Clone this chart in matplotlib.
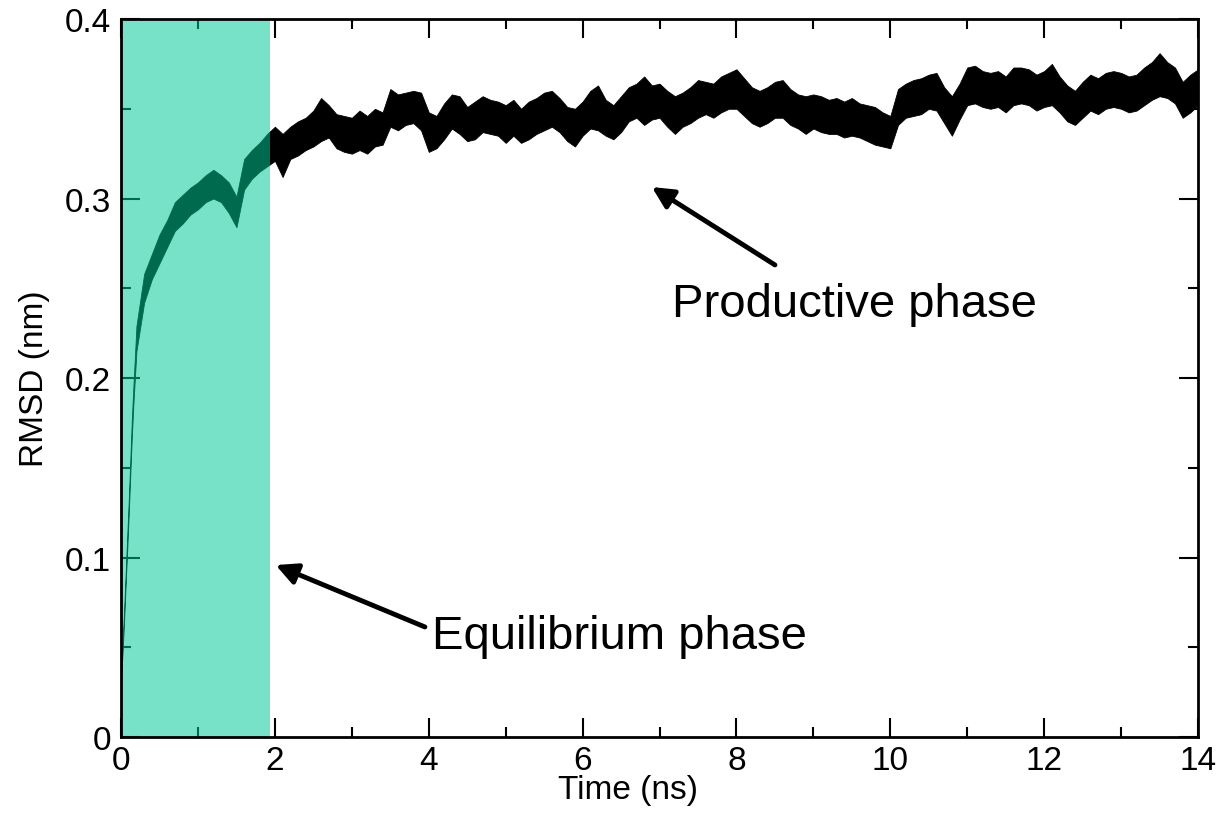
import matplotlib.pyplot as plt
import numpy as np
from matplotlib.ticker import MultipleLocator, FuncFormatter

plt.rcParams['font.family'] = ['Liberation Sans', 'DejaVu Sans']

# time axis (ns): fine steps during the initial jump, then every 0.1 ns
time = np.concatenate([
    [0.0, 0.02, 0.04, 0.06, 0.08, 0.10, 0.12, 0.14, 0.16, 0.18],
    np.round(np.arange(0.2, 14.001, 0.1), 2),
])

# RMSD envelope (nm): lower / upper edge of the noisy band
rmsd_lo = [
    0.032, 0.047, 0.065, 0.085, 0.104, 0.124, 0.146, 0.167, 0.185, 0.200,
    0.215, 0.242, 0.255, 0.264, 0.273, 0.282, 0.286, 0.291, 0.294, 0.298,
    0.300, 0.298, 0.292, 0.284, 0.305, 0.311, 0.315, 0.318,
    0.321, 0.312, 0.322, 0.324, 0.327, 0.329, 0.332, 0.334, 0.328, 0.326,
    0.325, 0.327, 0.325, 0.329, 0.330, 0.340, 0.338, 0.341, 0.342, 0.338,
    0.326, 0.328, 0.333, 0.339, 0.336, 0.332, 0.333, 0.337, 0.336, 0.335,
    0.331, 0.335, 0.331, 0.333, 0.336, 0.338, 0.340, 0.337, 0.332, 0.329,
    0.335, 0.339, 0.338, 0.335, 0.333, 0.337, 0.343, 0.345, 0.341, 0.344,
    0.345, 0.340, 0.336, 0.340, 0.342, 0.345, 0.347, 0.345, 0.348, 0.350,
    0.350, 0.346, 0.342, 0.340, 0.342, 0.345, 0.345, 0.341, 0.339, 0.336,
    0.339, 0.337, 0.336, 0.336, 0.334, 0.335, 0.334, 0.332, 0.330, 0.329,
    0.328, 0.341, 0.345, 0.346, 0.347, 0.350, 0.349, 0.342, 0.335, 0.344,
    0.352, 0.353, 0.351, 0.350, 0.351, 0.348, 0.352, 0.353, 0.352, 0.349,
    0.351, 0.352, 0.348, 0.343, 0.341, 0.345, 0.349, 0.347, 0.350, 0.351,
    0.350, 0.348, 0.349, 0.352, 0.355, 0.357, 0.356, 0.353, 0.345, 0.348,
    0.352,
]
rmsd_hi = [
    0.038, 0.053, 0.071, 0.091, 0.112, 0.132, 0.154, 0.177, 0.195, 0.212,
    0.229, 0.258, 0.269, 0.280, 0.288, 0.298, 0.302, 0.306, 0.309, 0.313,
    0.316, 0.313, 0.309, 0.301, 0.322, 0.327, 0.331, 0.336,
    0.340, 0.336, 0.340, 0.343, 0.345, 0.349, 0.356, 0.352, 0.347, 0.346,
    0.345, 0.349, 0.346, 0.350, 0.348, 0.361, 0.358, 0.359, 0.360, 0.359,
    0.348, 0.346, 0.353, 0.358, 0.357, 0.351, 0.354, 0.357, 0.355, 0.354,
    0.352, 0.355, 0.350, 0.354, 0.356, 0.359, 0.360, 0.356, 0.351, 0.350,
    0.354, 0.360, 0.363, 0.355, 0.352, 0.357, 0.362, 0.364, 0.368, 0.363,
    0.364, 0.360, 0.357, 0.359, 0.362, 0.366, 0.365, 0.364, 0.368, 0.370,
    0.372, 0.367, 0.362, 0.360, 0.362, 0.365, 0.366, 0.361, 0.358, 0.357,
    0.358, 0.357, 0.355, 0.356, 0.354, 0.356, 0.353, 0.352, 0.351, 0.348,
    0.346, 0.361, 0.364, 0.366, 0.367, 0.369, 0.370, 0.362, 0.357, 0.364,
    0.373, 0.374, 0.371, 0.370, 0.371, 0.368, 0.373, 0.373, 0.372, 0.369,
    0.371, 0.375, 0.368, 0.363, 0.360, 0.365, 0.369, 0.367, 0.370, 0.371,
    0.370, 0.368, 0.369, 0.373, 0.376, 0.381, 0.376, 0.373, 0.365, 0.369,
    0.372,
]

equil_end = 1.93  # end of shaded equilibration window (ns)

fig, ax = plt.subplots(figsize=(12.24, 8.28), dpi=100)
fig.subplots_adjust(left=0.0989, right=0.9788, bottom=0.1087, top=0.9758)

# RMSD trace drawn as its noisy band
ax.fill_between(time, rmsd_lo, rmsd_hi, color='black', lw=0.6, zorder=2)

# translucent teal overlay on top of the trace
ax.axvspan(0, equil_end, color=(0.0, 202 / 255, 151 / 255), alpha=0.53,
           lw=0, zorder=3)

ax.set_xlim(0, 14)
ax.set_ylim(0, 0.4)

ax.xaxis.set_major_locator(MultipleLocator(2))
ax.xaxis.set_minor_locator(MultipleLocator(1))
ax.yaxis.set_major_locator(MultipleLocator(0.1))
ax.yaxis.set_minor_locator(MultipleLocator(0.05))
fmt = FuncFormatter(lambda v, p: f"{v:g}")
ax.xaxis.set_major_formatter(fmt)
ax.yaxis.set_major_formatter(fmt)

ax.tick_params(which='both', direction='in', top=True, right=True,
               width=1.5, colors='black', labelsize=24)
ax.tick_params(which='major', length=14)
ax.tick_params(which='minor', length=7)
ax.tick_params(axis='x', pad=6)
ax.tick_params(axis='y', pad=7)

for sp in ax.spines.values():
    sp.set_linewidth(2.0)
    sp.set_zorder(4)

ax.set_xlabel('Time (ns)', fontsize=24)
ax.set_ylabel('RMSD (nm)', fontsize=24)
ax.xaxis.set_label_coords(0.4708, -0.052)
ax.yaxis.set_label_coords(-0.066, 0.5)

# annotations
arrow = dict(arrowstyle='-|>', lw=3.5, color='black', mutation_scale=32,
             shrinkA=0, shrinkB=0)
ax.annotate('', xy=(6.90, 0.3064), xytext=(8.50, 0.2630), arrowprops=arrow,
            zorder=5)
ax.text(7.16, 0.241, 'Productive phase', fontsize=34, ha='left',
        va='center', zorder=5)

ax.annotate('', xy=(2.01, 0.0958), xytext=(3.95, 0.0613), arrowprops=arrow,
            zorder=5)
ax.text(4.04, 0.0563, 'Equilibrium phase', fontsize=34, ha='left',
        va='center', zorder=5)

fig.savefig('out.png', dpi=100, facecolor='white')
